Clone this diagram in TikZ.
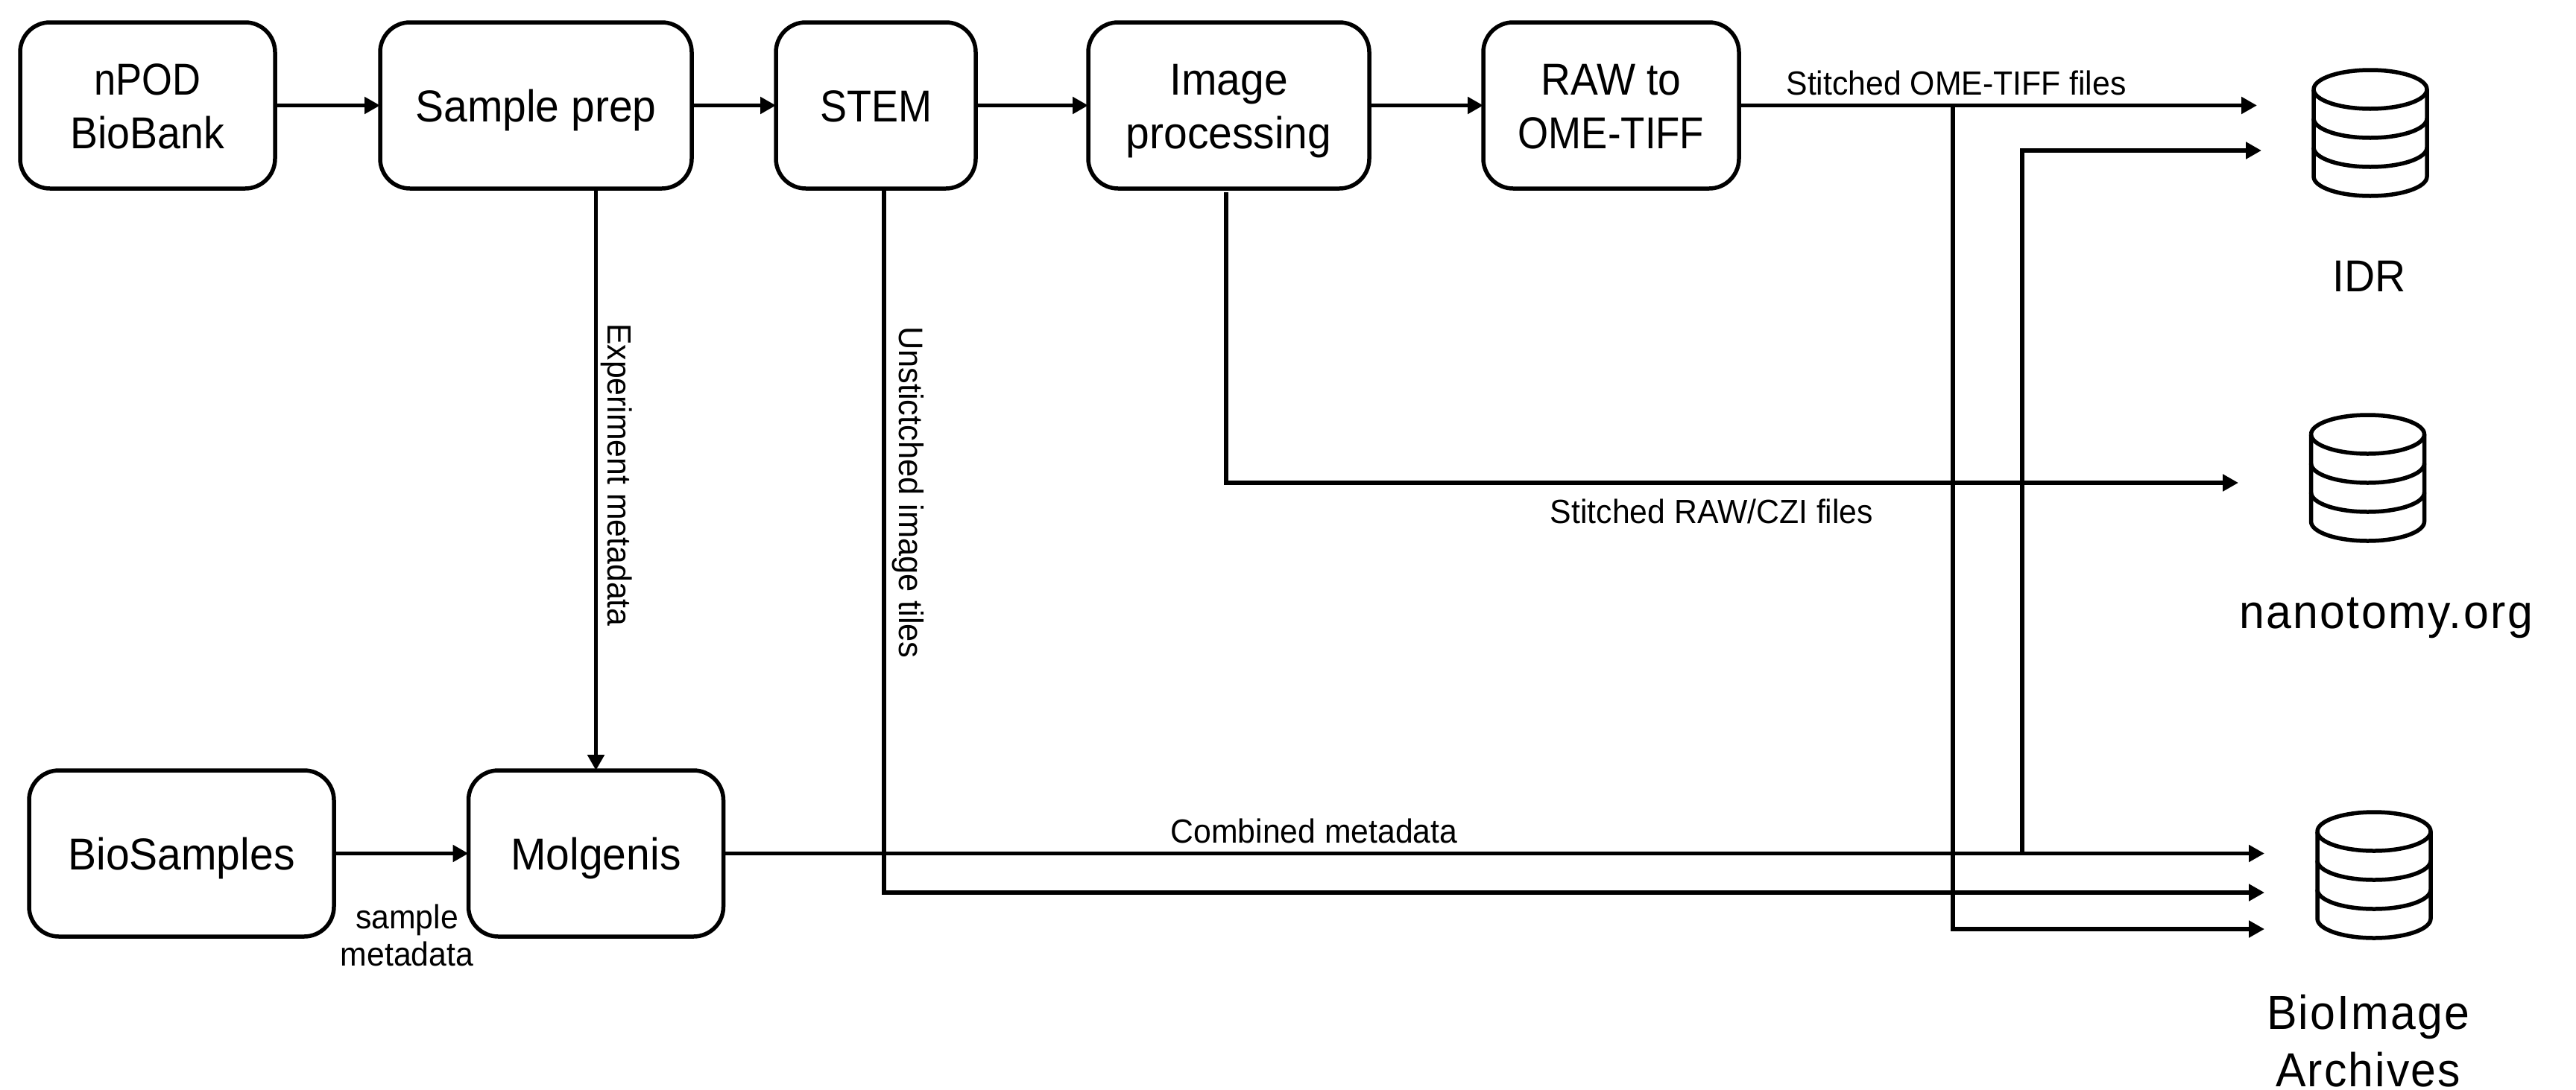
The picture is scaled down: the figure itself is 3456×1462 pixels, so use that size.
\documentclass[tikz,border=0pt]{standalone}
\usepackage{fontspec}
\setmainfont[FakeStretch=0.95]{Liberation Sans}
\usetikzlibrary{arrows.meta}
\newcommand{\sx}[2]{{\fontspec[FakeStretch=#1]{Liberation Sans}#2}}
\newcommand{\oneln}[1]{\raisebox{0pt}[43pt][0pt]{#1}}
\newcommand{\twoln}[2]{\raisebox{0pt}[43pt][0pt]{#1}\\\raisebox{0pt}[0pt][0pt]{#2}}
\newcommand{\dbicon}[2]{%
  \begin{scope}[shift={(#1,#2)}]
    \draw[dbline] (-76,0) arc[start angle=180,end angle=-180,x radius=76pt,y radius=26pt];
    \draw[dbline] (-76,0) -- (-76,117) arc[start angle=180,end angle=360,x radius=76pt,y radius=26pt] -- (76,0);
    \draw[dbline] (-76,39) arc[start angle=180,end angle=360,x radius=76pt,y radius=26pt];
    \draw[dbline] (-76,78) arc[start angle=180,end angle=360,x radius=76pt,y radius=26pt];
  \end{scope}}
\tikzset{
  proc/.style={draw=black,line width=5.5pt,rounded corners=40pt,fill=white,inner sep=0pt,outer sep=0pt,
    align=center,font=\fontsize{60}{72}\selectfont},
  conn/.style={draw=black,line width=5.5pt,-{Triangle[length=21pt,width=22pt]}},
  dbline/.style={draw=black,line width=5.5pt,line join=round},
  biglabel/.style={anchor=base,inner sep=0pt,align=center,font=\fontsize{60}{77}\selectfont},
  widelabel/.style={anchor=base,inner sep=0pt,align=center,font=\fontsize{64}{77}\selectfont},
  smalllabel/.style={anchor=base,inner sep=0pt,align=center,font=\fontsize{45}{50}\selectfont},
}
\begin{document}
\begin{tikzpicture}[x=1pt,y=-1pt]
\useasboundingbox (0,0) rectangle (3456,1462);
% process boxes
\node[proc,minimum width=342pt,minimum height=223pt] (npod) at (198,141.5) {\twoln{\sx{0.875}{nPOD}}{\sx{0.925}{BioBank}}};
\node[proc,minimum width=418pt,minimum height=223pt] (prep) at (719,141.5) {\oneln{Sample prep}};
\node[proc,minimum width=268pt,minimum height=223pt] (stem) at (1175,141.5) {\oneln{\sx{0.9}{STEM}}};
\node[proc,minimum width=377pt,minimum height=223pt] (imgp) at (1648.5,141.5) {\twoln{Image}{processing}};
\node[proc,minimum width=343pt,minimum height=223pt] (raw) at (2161.5,141.5) {\twoln{\sx{0.92}{RAW to}}{\sx{0.88}{OME-TIFF}}};
\node[proc,minimum width=409pt,minimum height=223pt] (biosamples) at (243.5,1145.5) {\oneln{BioSamples}};
\node[proc,minimum width=342pt,minimum height=223pt] (molgenis) at (799.5,1145.5) {\oneln{Molgenis}};
% database icons
\dbicon{3180}{120}
\dbicon{3176.5}{583}
\dbicon{3185}{1116}
\node[biglabel] (idrlab) at (3179,391) {IDR};
\node[widelabel] (nanolab) at (3201,843) {\addfontfeature{LetterSpace=3.8}nanotomy.org};
\node[widelabel] (bialab) at (3177,1458) {\addfontfeature{LetterSpace=3.3}BioImage\\\addfontfeature{LetterSpace=3.3}Archives};
% connector ends
\coordinate (idrA) at (3028,141.5);
\coordinate (idrB) at (3034,202);
\coordinate (nanoA) at (3003,648);
\coordinate (bioA) at (3038,1145.5);
\coordinate (bioB) at (3038,1198);
\coordinate (bioC) at (3038,1247);
\coordinate (stemout) at (1186,253);
\coordinate (imgout) at (1645,258);
\coordinate (j1) at (2620,141.5);
\coordinate (j2) at (2713,1145.5);
% connectors
\draw[conn] (npod.east) -- (prep.west);
\draw[conn] (prep.east) -- (stem.west);
\draw[conn] (stem.east) -- (imgp.west);
\draw[conn] (imgp.east) -- (raw.west);
\draw[conn] (raw.east) -- (idrA);
\draw[conn] (biosamples.east) -- (molgenis.west);
\draw[conn] (molgenis.north |- prep.south) -- (molgenis.north);
\draw[conn] (molgenis.east) -- (bioA);
\draw[conn] (stemout) |- (bioB);
\draw[conn] (imgout) |- (nanoA);
\draw[conn] (j1) |- (bioC);
\draw[conn] (j2) |- (idrB);
% connector labels
\node[smalllabel] (l1) at (2624.5,127) {Stitched OME-TIFF files};
\node[smalllabel] (l2) at (2296.5,702) {Stitched RAW/CZI files};
\node[smalllabel] (l3) at (1763,1131) {Combined metadata};
\node[smalllabel] (l4) at (546,1296) {sample\\metadata};
\node[smalllabel,anchor=base west,rotate=-90] (l5) at (815,434) {Experiment metadata};
\node[smalllabel,anchor=base west,rotate=-90,font=\fontsize{45.6}{50}\selectfont] (l6) at (1206,438) {Unstictched image tiles};
\end{tikzpicture}
\end{document}
